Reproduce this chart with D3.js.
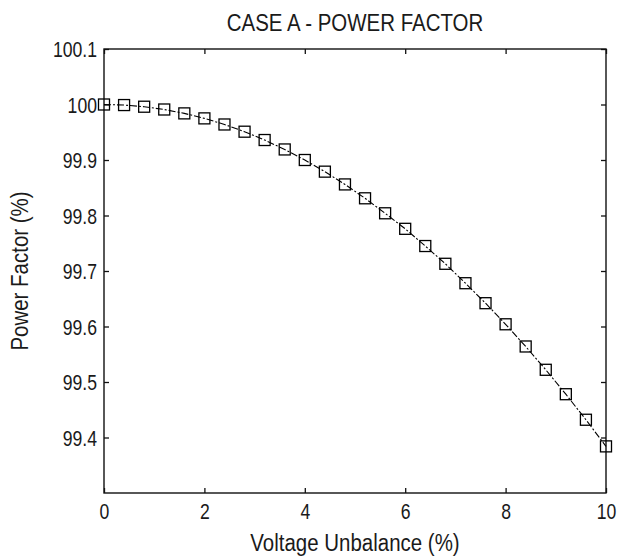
<!DOCTYPE html>
<html>
<head>
<meta charset="utf-8">
<script src="https://cdn.jsdelivr.net/npm/d3@7"></script>
<style>
  body { margin: 0; background: #fff; }
  text { font-family: "Liberation Sans", Arial, sans-serif; fill: #1a1a1a; }
</style>
</head>
<body>
<script>
// ---------------- DATA ----------------
const unbalance = [0, 0.4, 0.8, 1.2, 1.6, 2.0, 2.4, 2.8, 3.2, 3.6, 4.0, 4.4, 4.8,
  5.2, 5.6, 6.0, 6.4, 6.8, 7.2, 7.6, 8.0, 8.4, 8.8, 9.2, 9.6, 10];
const powerFactor = [100.000, 99.999, 99.996, 99.991, 99.984, 99.975, 99.964, 99.951,
  99.936, 99.919, 99.900, 99.879, 99.856, 99.831, 99.804, 99.776, 99.745, 99.713,
  99.678, 99.642, 99.604, 99.564, 99.522, 99.478, 99.432, 99.384];
const xTicks = [0, 2, 4, 6, 8, 10];
const yTicks = [99.4, 99.5, 99.6, 99.7, 99.8, 99.9, 100, 100.1];

const width = 619, height = 556;
const plotL = 104, plotR = 606, plotT = 49, plotB = 493;

const svg = d3.select("body").append("svg")
  .attr("width", width).attr("height", height);

// ---------------- SCALES ----------------
const x = d3.scaleLinear().domain([0, 10]).range([plotL, plotR]);
const y = d3.scaleLinear().domain([99.3, 100.1]).range([plotB, plotT]);

// ---------------- AXES ----------------
const tickFont = "20px";
const squeeze = "scale(0.88,1.08)";

const xAxis = svg.append("g").attr("transform", "translate(0," + plotB + ")")
  .call(d3.axisBottom(x).tickValues(xTicks).tickSize(-5).tickPadding(24).tickFormat(d3.format("d")));
const xTop = svg.append("g").attr("transform", "translate(0," + plotT + ")")
  .call(d3.axisTop(x).tickValues(xTicks).tickSize(-5).tickFormat(""));
const yAxis = svg.append("g").attr("transform", "translate(" + plotL + ",0)")
  .call(d3.axisLeft(y).tickValues(yTicks).tickSize(-5).tickPadding(8).tickFormat(d => String(+d.toFixed(1))));
const yRight = svg.append("g").attr("transform", "translate(" + plotR + ",0)")
  .call(d3.axisRight(y).tickValues(yTicks).tickSize(-5).tickFormat(""));

[xAxis, xTop, yAxis, yRight].forEach(g => {
  g.select(".domain").remove();
  g.selectAll(".tick line").attr("stroke", "#111").attr("stroke-width", 1.3);
  g.selectAll(".tick text").attr("font-size", tickFont).attr("fill", "#1a1a1a")
    .attr("font-family", "'Liberation Sans', Arial, sans-serif")
    .attr("transform", squeeze);
});
xAxis.selectAll(".tick text").attr("dy", "0");
yAxis.selectAll(".tick text").attr("dy", "0.36em");

// frame
svg.append("rect")
  .attr("x", plotL).attr("y", plotT)
  .attr("width", plotR - plotL).attr("height", plotB - plotT)
  .attr("fill", "none").attr("stroke", "#111").attr("stroke-width", 1.4);

// ---------------- LINE ----------------
const pts = unbalance.map((u, i) => ({ u: u, pf: powerFactor[i] }));
const line = d3.line().x(d => x(d.u)).y(d => y(d.pf));

svg.append("path").datum(pts)
  .attr("d", line)
  .attr("fill", "none")
  .attr("stroke", "#000")
  .attr("stroke-width", 1.1)
  .attr("stroke-dasharray", "7,2,2,2");

const ms = 11;
svg.selectAll(".marker").data(pts).enter().append("rect")
  .attr("class", "marker")
  .attr("x", d => x(d.u) - ms / 2)
  .attr("y", d => y(d.pf) - ms / 2)
  .attr("width", ms).attr("height", ms)
  .attr("fill", "none")
  .attr("stroke", "#000")
  .attr("stroke-width", 1.3);

// ---------------- LABELS ----------------
svg.append("text")
  .attr("transform", "translate(" + (plotL + plotR) / 2 + ",31) scale(0.89,1.05)")
  .attr("text-anchor", "middle").attr("font-size", "23px")
  .text("CASE A - POWER FACTOR");

svg.append("text")
  .attr("transform", "translate(" + (plotL + plotR) / 2 + ",551) scale(0.89,1.05)")
  .attr("text-anchor", "middle").attr("font-size", "23px")
  .text("Voltage Unbalance (%)");

svg.append("text")
  .attr("transform", "translate(28," + (plotT + plotB) / 2 + ") rotate(-90) scale(0.89,1.05)")
  .attr("text-anchor", "middle").attr("font-size", "23px")
  .text("Power Factor (%)");
</script>
</body>
</html>
